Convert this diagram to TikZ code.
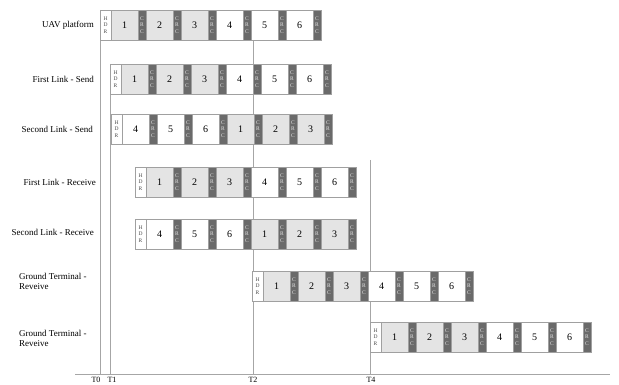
\documentclass[tikz,border=0pt]{standalone}
\usepackage{fontspec}
\setmainfont{Liberation Serif}
\definecolor{dgray}{HTML}{6A6A6A}
\definecolor{lgray}{HTML}{E4E4E4}
\definecolor{edge}{HTML}{A0A0A0}
\newcommand\pktrow[4]{%
  \node[hdr] (#1h) at (#2,#3) {H\\D\\R};
  \foreach \n [count=\i] in {#4}{%
    \pgfmathsetmacro\xx{#2+11+(\i-1)*35}%
    \ifnum\n<4 \def\fc{lgray}\else\def\fc{white}\fi
    \node[data, fill=\fc] (#1d\i) at (\xx,#3) {\n};
    \node[crc] (#1c\i) at (\xx+27,#3) {C\\R\\C};
  }
  \draw[draw=edge] (#1h.north west) rectangle (#1c6.south east);
}
\begin{document}
\begin{tikzpicture}[x=1pt,y=-1pt,
  cell/.style={draw=edge, line width=0.4pt, minimum height=30pt, inner sep=0pt, outer sep=0pt, anchor=north west},
  hdr/.style={cell, minimum width=11pt, fill=white, font=\fontsize{5.5}{6.5}\selectfont, text=black!70, align=center},
  data/.style={cell, minimum width=27pt, font=\fontsize{10}{11}\selectfont},
  crc/.style={cell, minimum width=8pt, fill=dgray, text=black!10, font=\fontsize{5.5}{6.5}\selectfont, align=center},
  lbl/.style={font=\fontsize{9}{10.5}\selectfont, inner sep=0pt},
  tlbl/.style={font=\fontsize{8}{9}\selectfont, inner sep=0pt},
  tline/.style={draw=black!35, line width=0.5pt}]
\useasboundingbox (0,0) rectangle (619,385);
% time lines
\coordinate (ax0) at (75,374);
\coordinate (ax1) at (610,374);
\coordinate (t0a) at (100,10);  \coordinate (t0b) at (100,374);
\coordinate (t1a) at (110,64);  \coordinate (t1b) at (110,374);
\coordinate (t2a) at (253,40);  \coordinate (t2b) at (253,374);
\coordinate (t4a) at (370,160); \coordinate (t4b) at (370,374);
\draw[tline] (ax0) -- (ax1);
\draw[tline] (t0a) -- (t0b);
\draw[tline] (t1a) -- (t1b);
\draw[tline] (t2a) -- (t2b);
\draw[tline] (t4a) -- (t4b);
\node[tlbl] (T0) at (96,380) {T0};
\node[tlbl] (T1) at (112,380) {T1};
\node[tlbl] (T2) at (253,380) {T2};
\node[tlbl] (T4) at (371,380) {T4};
% rows
\pktrow{ra}{100}{10}{1,2,3,4,5,6}
\pktrow{rb}{110}{64}{1,2,3,4,5,6}
\pktrow{rc}{111}{114}{4,5,6,1,2,3}
\pktrow{rd}{135}{167}{1,2,3,4,5,6}
\pktrow{re}{135}{219}{4,5,6,1,2,3}
\pktrow{rf}{252}{271}{1,2,3,4,5,6}
\pktrow{rg}{370}{322}{1,2,3,4,5,6}
% labels
\node[lbl, anchor=east] (la) at (94,25) {UAV platform};
\node[lbl, anchor=east] (lb) at (94,79) {First Link - Send};
\node[lbl, anchor=east] (lc) at (93,129) {Second Link - Send};
\node[lbl, anchor=east] (ld) at (96,182) {First Link - Receive};
\node[lbl, anchor=east] (le) at (94,232) {Second Link - Receive};
\node[lbl, anchor=north west, align=left] (lf) at (19,273) {Ground Terminal -\\Reveive};
\node[lbl, anchor=north west, align=left] (lg) at (19,330) {Ground Terminal -\\Reveive};
\end{tikzpicture}
\end{document}
